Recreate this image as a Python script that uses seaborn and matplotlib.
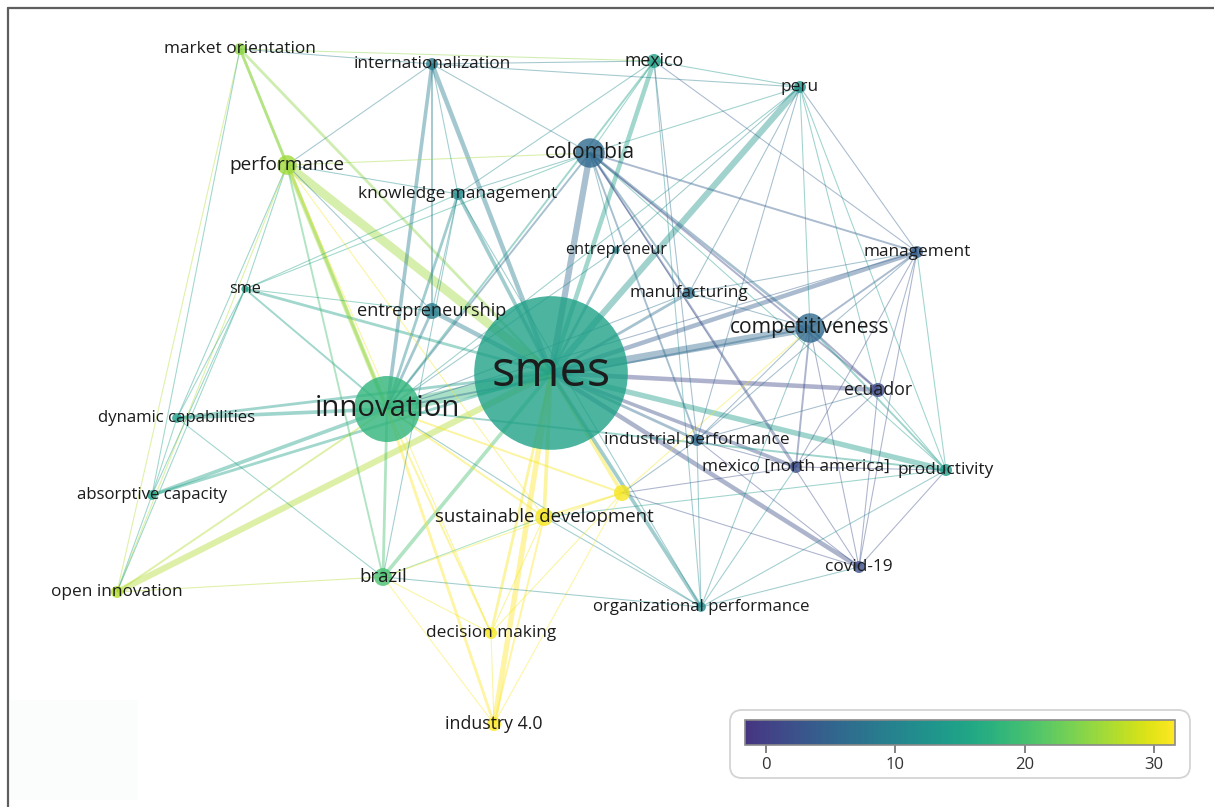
import numpy as np
import pandas as pd
import matplotlib
import matplotlib.pyplot as plt
import seaborn as sns
from matplotlib.collections import LineCollection
from matplotlib.colors import ListedColormap, Normalize
from matplotlib.patches import FancyBboxPatch, Rectangle

# keyword map (VOSviewer style overlay)
labels = ['smes', 'innovation', 'colombia', 'competitiveness', 'performance',
          'sustainable development', 'brazil', '', 'entrepreneurship', 'mexico',
          'industry 4.0', 'ecuador', 'internationalization', 'open innovation', 'peru',
          'market orientation', 'knowledge management', 'management', 'manufacturing',
          'industrial performance', 'mexico [north america]', 'productivity',
          'decision making', 'covid-19', 'organizational performance',
          'absorptive capacity', 'dynamic capabilities', 'entrepreneur', 'sme']
layout_x = [551, 387, 590, 810, 287, 544, 383, 622, 432, 654, 494, 878, 432, 117, 800,
            240, 458, 917, 689, 697, 796, 946, 491, 859, 701, 152, 177, 616, 245]
layout_y = [373, 409, 153, 328, 165, 517, 577, 493, 311, 61, 724, 390, 64, 592, 87,
            49, 194, 252, 293, 440, 467, 470, 633, 567, 607, 495, 418, 250, 289]
occurrences = [139, 43, 14, 14, 8, 7, 7, 6, 6, 5, 5, 5, 4, 4, 4,
               4, 4, 4, 4, 4, 4, 4, 4, 4, 3, 3, 3, 2, 2]
score = [15, 18, 6, 6, 26, 31, 20, 31, 9, 15, 32, 1, 9, 27, 13,
         25, 11, 4, 7, 6, 2, 14, 31, 2, 11, 15, 14, 10, 15]

links = [
    ('smes', 'innovation', 14), ('smes', 'performance', 10), ('smes', 'competitiveness', 9),
    ('smes', 'colombia', 7), ('smes', 'peru', 7), ('smes', 'mexico', 5),
    ('smes', 'internationalization', 5), ('smes', 'open innovation', 7), ('smes', 'productivity', 6),
    ('smes', 'ecuador', 5), ('smes', 'management', 5), ('smes', 'manufacturing', 3),
    ('smes', 'entrepreneur', 3), ('smes', 'knowledge management', 4), ('smes', 'entrepreneurship', 5),
    ('smes', 'sme', 3), ('smes', 'dynamic capabilities', 3), ('smes', 'absorptive capacity', 3),
    ('smes', 'brazil', 4), ('smes', 'sustainable development', 4), ('smes', '', 4),
    ('smes', 'decision making', 3), ('smes', 'industry 4.0', 6), ('smes', 'organizational performance', 4),
    ('smes', 'covid-19', 5), ('smes', 'mexico [north america]', 4), ('smes', 'industrial performance', 3),
    ('smes', 'market orientation', 3),
    ('innovation', 'performance', 5), ('innovation', 'market orientation', 3),
    ('innovation', 'internationalization', 4), ('innovation', 'knowledge management', 3),
    ('innovation', 'sme', 2), ('innovation', 'entrepreneurship', 3),
    ('innovation', 'dynamic capabilities', 4), ('innovation', 'absorptive capacity', 4),
    ('innovation', 'open innovation', 2), ('innovation', 'brazil', 3),
    ('innovation', 'decision making', 2), ('innovation', 'sustainable development', 2),
    ('innovation', 'industry 4.0', 3), ('innovation', 'colombia', 2), ('innovation', 'mexico', 2),
    ('innovation', 'competitiveness', 2), ('innovation', 'peru', 1), ('innovation', 'productivity', 2),
    ('innovation', 'organizational performance', 1), ('innovation', '', 2),
    ('innovation', 'management', 1), ('innovation', 'manufacturing', 1), ('innovation', 'entrepreneur', 1),
    ('colombia', 'competitiveness', 3), ('colombia', 'management', 2), ('colombia', 'manufacturing', 2),
    ('colombia', 'ecuador', 2), ('colombia', 'industrial performance', 2),
    ('colombia', 'mexico [north america]', 2), ('colombia', 'entrepreneur', 1),
    ('colombia', 'productivity', 1), ('colombia', 'peru', 1), ('colombia', 'internationalization', 1),
    ('colombia', 'knowledge management', 1), ('colombia', 'performance', 1),
    ('colombia', 'covid-19', 1), ('colombia', 'sme', 1), ('colombia', 'mexico', 1),
    ('competitiveness', 'management', 2), ('competitiveness', 'ecuador', 2),
    ('competitiveness', 'productivity', 2), ('competitiveness', 'mexico [north america]', 2),
    ('competitiveness', 'industrial performance', 1), ('competitiveness', 'manufacturing', 1),
    ('competitiveness', 'covid-19', 1), ('competitiveness', 'peru', 1), ('competitiveness', '', 1),
    ('competitiveness', 'organizational performance', 1),
    ('performance', 'market orientation', 3), ('performance', 'sme', 1), ('performance', 'brazil', 2),
    ('performance', 'knowledge management', 1), ('performance', 'internationalization', 1),
    ('performance', 'dynamic capabilities', 1), ('performance', 'open innovation', 1),
    ('performance', 'decision making', 1), ('performance', 'sustainable development', 1),
    ('performance', 'entrepreneurship', 1),
    ('market orientation', 'open innovation', 1), ('market orientation', 'absorptive capacity', 1),
    ('market orientation', 'internationalization', 1), ('market orientation', 'mexico', 1),
    ('sme', 'absorptive capacity', 1), ('sme', 'dynamic capabilities', 1), ('sme', 'open innovation', 1),
    ('sme', 'entrepreneurship', 1), ('sme', 'knowledge management', 1),
    ('peru', 'mexico', 1), ('peru', 'productivity', 1), ('peru', 'management', 1), ('peru', 'ecuador', 1),
    ('peru', 'industrial performance', 1), ('peru', 'manufacturing', 1),
    ('peru', 'internationalization', 1), ('peru', 'entrepreneur', 1),
    ('mexico', 'internationalization', 1), ('mexico', 'management', 1),
    ('mexico', 'knowledge management', 1), ('mexico', 'industrial performance', 1),
    ('mexico', 'organizational performance', 1),
    ('internationalization', 'knowledge management', 1), ('internationalization', 'entrepreneurship', 2),
    ('knowledge management', 'entrepreneurship', 1), ('knowledge management', 'organizational performance', 1),
    ('knowledge management', 'brazil', 1),
    ('management', 'ecuador', 1), ('management', 'productivity', 1), ('management', 'covid-19', 1),
    ('management', 'mexico [north america]', 1), ('management', 'manufacturing', 1),
    ('management', 'industrial performance', 1),
    ('ecuador', 'productivity', 1), ('ecuador', 'covid-19', 1), ('ecuador', 'mexico [north america]', 1),
    ('ecuador', 'industrial performance', 1),
    ('productivity', 'covid-19', 1), ('productivity', 'mexico [north america]', 1),
    ('productivity', 'organizational performance', 1), ('productivity', 'sustainable development', 1),
    ('industrial performance', 'mexico [north america]', 1),
    ('industrial performance', 'organizational performance', 1), ('industrial performance', '', 1),
    ('industrial performance', 'covid-19', 1),
    ('sustainable development', '', 2), ('sustainable development', 'decision making', 1),
    ('sustainable development', 'industry 4.0', 2), ('sustainable development', 'brazil', 1),
    ('sustainable development', 'organizational performance', 1),
    ('', 'decision making', 1), ('', 'industry 4.0', 1), ('', 'brazil', 1),
    ('', 'mexico [north america]', 1), ('', 'covid-19', 1),
    ('brazil', 'decision making', 1), ('brazil', 'industry 4.0', 1),
    ('brazil', 'organizational performance', 1), ('brazil', 'open innovation', 1),
    ('decision making', 'industry 4.0', 1),
    ('organizational performance', 'covid-19', 1), ('organizational performance', 'mexico [north america]', 1),
    ('dynamic capabilities', 'absorptive capacity', 1), ('dynamic capabilities', 'brazil', 1),
    ('absorptive capacity', 'open innovation', 1),
]

sns.set_theme(style='white')
plt.rcParams['font.family'] = ['Open Sans', 'DejaVu Sans']

df = pd.DataFrame({'label': labels, 'x': layout_x, 'y': layout_y,
                   'occ': occurrences, 'score': score})
df['r'] = 2.2 * df['occ'] ** 0.72          # node radius in pixels
df['fs'] = 11.8 + 0.32 * (df['r'] - 4)     # label size grows with node
idx = {l: i for i, l in enumerate(labels)}

cmap = ListedColormap(plt.get_cmap('viridis')(np.linspace(0.15, 1.0, 256)))
norm = Normalize(vmin=-1.62, vmax=31.63)

fig = plt.figure(figsize=(12.14, 8.07), dpi=100)
ax = fig.add_axes([0, 0, 1, 1])

# links, coloured like the smaller node of each pair
segs, widths, cols = [], [], []
for a, b, w in sorted(links, key=lambda t: -t[2]):
    i, j = idx[a], idx[b]
    segs.append([(df.x[i], df.y[i]), (df.x[j], df.y[j])])
    widths.append(0.15 + 0.62 * w)
    k = i if df.occ[i] < df.occ[j] else j
    c = list(cmap(norm(df.score[k])))
    c[3] = 0.42
    cols.append(c)
ax.add_collection(LineCollection(segs, linewidths=widths, colors=cols, capstyle='butt', zorder=1))

sns.scatterplot(data=df, x='x', y='y', hue='score', palette=cmap, hue_norm=norm,
                s=(2 * df['r'] * 0.72) ** 2, linewidth=0, alpha=0.8, legend=False, ax=ax, zorder=3)

for _, row in df.iterrows():
    if row.label:
        ax.text(row.x, row.y, row.label, fontsize=row.fs, color='#1c1c1c',
                ha='center', va='center', zorder=4)

ax.set_xlim(0, 1214)
ax.set_ylim(807, 0)
ax.axis('off')

# frame and faint patch
ax.plot([8, 1214], [8, 8], color='#5e5e5e', lw=1.6, zorder=6)
ax.plot([8, 8], [8, 807], color='#5e5e5e', lw=1.6, zorder=6)
ax.add_patch(Rectangle((10, 700), 128, 100, fc='#fbfcfc', ec='none', zorder=0))

# colour legend
ax.add_patch(FancyBboxPatch((730, 710), 460, 68, boxstyle='round,pad=0,rounding_size=12',
                            fc='white', ec='#d4d4d4', lw=1.3, zorder=5))
cax = fig.add_axes([745 / 1214, 1 - 745 / 807, 430 / 1214, 25 / 807])
cb = fig.colorbar(matplotlib.cm.ScalarMappable(norm=norm, cmap=cmap), cax=cax,
                  orientation='horizontal', ticks=[0, 10, 20, 30])
cb.outline.set_edgecolor('#8a8a8a')
cb.outline.set_linewidth(1.2)
cax.tick_params(direction='inout', length=11, width=1.3, color='#7a7a7a',
                labelsize=12, labelcolor='#333333', pad=3)

fig.savefig('out.png', dpi=100)
